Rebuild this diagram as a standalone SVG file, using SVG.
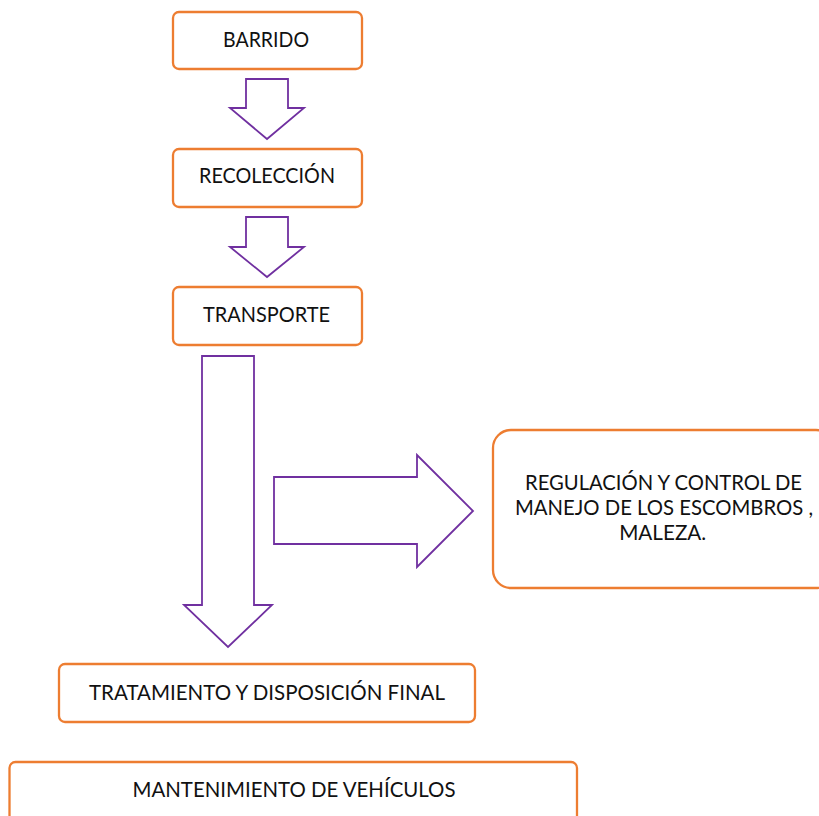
<svg xmlns="http://www.w3.org/2000/svg" width="819" height="816" viewBox="0 0 819 816">
<style>
.box{fill:#fff;stroke:#ED7D31;stroke-width:2.3}
.arr{fill:#fff;stroke:#7030A0;stroke-width:1.8;stroke-linejoin:miter}
text{font-family:Lato,"Liberation Sans",sans-serif;font-size:22px;fill:#111;text-anchor:middle}
.sm{font-size:20.5px}
</style>
<rect width="819" height="816" fill="#fff"/>
<g id="connectors">
<polygon class="arr" points="246,79 288,79 288,108 304,108 267,139 230,108 246,108"/>
<polygon class="arr" points="246,217 288,217 288,247 304,247 267,277 230,247 246,247"/>
<polygon class="arr" points="202,356 254,356 254,605 272,605 228,647 184,605 202,605"/>
<polygon class="arr" points="274,477 417,477 417,455 473,511 417,567 417,544 274,544"/>
</g>
<g id="barrido">
<rect class="box" x="173" y="12" width="189" height="57" rx="6"/>
<text x="266" y="47" textLength="86" lengthAdjust="spacingAndGlyphs">BARRIDO</text>
</g>
<g id="recoleccion">
<rect class="box" x="173" y="149" width="189" height="58" rx="6"/>
<text x="267" y="183" textLength="136" lengthAdjust="spacingAndGlyphs">RECOLECCIÓN</text>
</g>
<g id="transporte">
<rect class="box" x="173" y="287" width="189" height="58" rx="6"/>
<text x="266.5" y="322" textLength="127" lengthAdjust="spacingAndGlyphs">TRANSPORTE</text>
</g>
<g id="regulacion">
<rect class="box" x="493" y="430" width="341" height="158" rx="18"/>
<text class="sm" x="663.5" y="490" textLength="277" lengthAdjust="spacingAndGlyphs">REGULACIÓN Y CONTROL DE</text>
<text class="sm" x="664" y="515" textLength="298" lengthAdjust="spacingAndGlyphs">MANEJO DE LOS ESCOMBROS ,</text>
<text class="sm" x="662.7" y="540" textLength="87" lengthAdjust="spacingAndGlyphs">MALEZA.</text>
</g>
<g id="tratamiento">
<rect class="box" x="59" y="664" width="416" height="58" rx="6"/>
<text x="267" y="700" textLength="356" lengthAdjust="spacingAndGlyphs">TRATAMIENTO Y DISPOSICIÓN FINAL</text>
</g>
<g id="mantenimiento">
<rect class="box" x="9.5" y="762" width="567.5" height="80" rx="6"/>
<text x="294" y="797" textLength="323" lengthAdjust="spacingAndGlyphs">MANTENIMIENTO DE VEHÍCULOS</text>
</g>
</svg>
